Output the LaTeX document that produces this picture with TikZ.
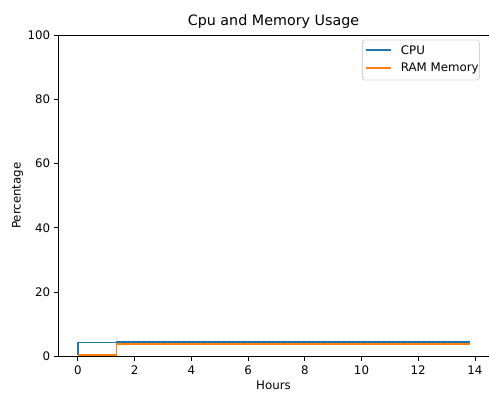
\documentclass[tikz,border=0pt]{standalone}
\usepackage{fontspec}
\setmainfont{DejaVu Sans}
\definecolor{tabblue}{HTML}{1F77B4}
\definecolor{taborange}{HTML}{FF7F0E}
\definecolor{legedge}{HTML}{D6D6D6}
\begin{document}
\begin{tikzpicture}[x=1pt,y=-1pt,
  spine/.style={line width=0.9pt,black,line cap=rect},
  tickmark/.style={line width=0.9pt,black},
  ticklabel/.style={inner sep=0pt,font=\fontsize{11.8}{13}\selectfont},
  axlabel/.style={inner sep=0pt,font=\fontsize{11.8}{13}\selectfont},
  series/.style={line width=1.7pt,line join=miter},
  legtext/.style={inner sep=0pt,anchor=base west,font=\fontsize{11.8}{13}\selectfont}]
\useasboundingbox (0,0) rectangle (489,392);

% axes frame (left, bottom, top; right edge lies at the border)
\coordinate (bl) at (58,356.5);
\coordinate (tl) at (58,35);
\coordinate (br) at (490,356.5);
\coordinate (tr) at (490,35);

% data area: hours along x, percentage along y
\begin{scope}[shift={(77.8,356.5)},x=28.37pt,y=3.215pt]
  % CPU
  \draw[series,tabblue] (0,0.5) -- (0,4.35) -- (1.36,4.35) -- (1.36,4.5) -- (13.84,4.5);
  \draw[line width=0.5pt,tabblue!80!black,dash pattern=on 2pt off 3pt] (1.4,4.7) -- (13.8,4.7);
  % RAM Memory
  \draw[series,taborange] (0,0.5) -- (1.36,0.5) -- (1.36,3.95) -- (13.84,3.95);

  % x ticks
  \foreach \h in {0,2,...,14}{
    \draw[tickmark] (\h,0) -- ++(0,-1.25);
    \node[ticklabel,anchor=base] (xt\h) at (\h,-5.6) {\h};
  }
  % y ticks
  \foreach \p in {0,20,...,100}{
    \draw[tickmark] (-0.7,\p) -- ++(-0.155,0);
    \node[ticklabel,anchor=base east,yshift=-4.2pt] (yt\p) at (-0.97,\p) {\p};
  }
\end{scope}

\draw[spine] (tr) -- (tl) -- (bl) -- (br);

% titles
\node[inner sep=0pt,anchor=base,font=\fontsize{14.3}{16}\selectfont] (title) at (273.5,25) {Cpu and Memory Usage};
\node[axlabel,anchor=base] (xlab) at (273.5,389) {Hours};
\node[axlabel,anchor=base,rotate=90] (ylab) at (20.6,195.7) {Percentage};

% legend
\draw[legedge,fill=white,fill opacity=0.8,line width=0.9pt,rounded corners=2.5pt] (362.3,40) rectangle (479.3,80);
\coordinate (l1a) at (366,50);
\coordinate (l1b) at (391,50);
\coordinate (l2a) at (366,67.7);
\coordinate (l2b) at (391,67.7);
\draw[series,tabblue] (l1a) -- (l1b);
\draw[series,taborange] (l2a) -- (l2b);
\node[legtext] (leg1) at (400.7,54) {CPU};
\node[legtext] (leg2) at (400.7,71.8) {RAM Memory};
\end{tikzpicture}
\end{document}
